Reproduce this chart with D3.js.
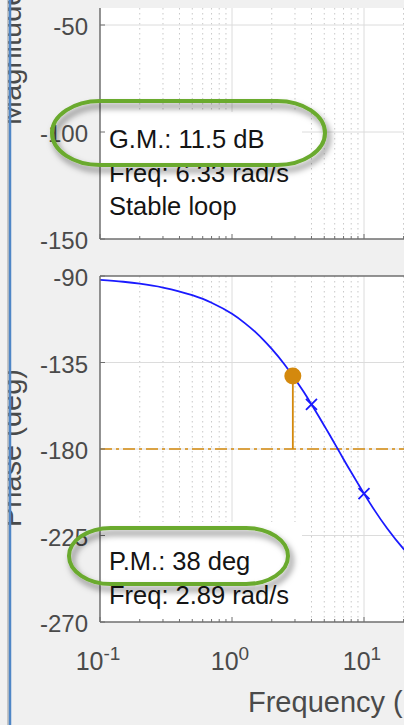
<!DOCTYPE html>
<html><head><meta charset="utf-8">
<script src="https://cdn.jsdelivr.net/npm/d3@7"></script>
<style>html,body{margin:0;padding:0;background:#f0f0f0;overflow:hidden}svg{display:block}</style>
</head><body>
<script>
// ---- data ----
const freqs    = [0.1, 0.15, 0.2, 0.3, 0.5, 0.7, 1, 1.25, 1.5, 1.75, 2, 2.5, 2.89, 3, 3.5, 4, 4.5, 5, 5.5, 6.33, 7, 8, 9, 10, 12, 15, 20, 25];
const phaseDeg = [-92.0, -93.0, -94.0, -96.0, -100.0, -103.9, -109.7, -114.5, -119.1, -123.6, -127.9, -136.0, -142.0, -143.6, -150.4, -156.8, -162.6, -167.9, -172.7, -180.0, -185.3, -192.1, -198.0, -203.2, -211.8, -221.4, -232.1, -239.1];
const markerFreqs = [4, 10];
const markerPhase = [-156.8, -203.2];
const pmFreq = 2.89, pmPhase = -142.0, critPhase = -180;
const magTicks = [-150, -100, -50];
const phaseTicks = [-270, -225, -180, -135, -90];
const decadeTicks = [0.1, 1, 10];
const decadeExp = ["-1", "0", "1"];
const gmLines = ["G.M.: 11.5 dB", "Freq: 6.33 rad/s", "Stable loop"];
const pmLines = ["P.M.: 38 deg", "Freq: 2.89 rad/s"];
const magLabel = "Magnitude (dB)", phaseLabel = "Phase (deg)", freqLabel = "Frequency (rad/s)";

const W = 404, H = 725;
const svg = d3.select("body").append("svg").attr("width", W).attr("height", H)
  .style("font-family", "'Liberation Sans', Arial, Helvetica, sans-serif");

const defs = svg.append("defs");
const f = defs.append("filter").attr("id", "shadow").attr("x", "-20%").attr("y", "-40%").attr("width", "140%").attr("height", "180%");
f.append("feDropShadow").attr("dx", 3).attr("dy", 5).attr("stdDeviation", 3).attr("flood-color", "#000").attr("flood-opacity", 0.5);

const x = d3.scaleLog().domain([0.1, 10]).range([100, 364]);
const yMag = d3.scaleLinear().domain([-150, -50]).range([239, 25]);
const yPh = d3.scaleLinear().domain([-270, -90]).range([622, 276]);

const minorFreqs = [];
[0.1, 1, 10].forEach(d => { for (let k = 2; k <= 9; k++) minorFreqs.push(d * k); });
minorFreqs.push(20, 30);

const axisCol = "#6f6f6f", gridCol = "#dcdcdc", minorCol = "#c8c8c8", tickTxt = "#4a4a4a";
const orange = "#d4890d", blue = "#1a1aff";

function panel(top, bottom, yScale, yTicks) {
  const g = svg.append("g");
  g.append("rect").attr("x", 100).attr("y", top).attr("width", W - 100).attr("height", bottom - top).attr("fill", "#fff");
  g.selectAll(".mg").data(minorFreqs).join("line")
    .attr("x1", d => x(d)).attr("x2", d => x(d)).attr("y1", top).attr("y2", bottom)
    .attr("stroke", minorCol).attr("stroke-width", 1).attr("stroke-dasharray", "1.5,3.5");
  g.selectAll(".Mg").data(decadeTicks.slice(1)).join("line")
    .attr("x1", d => x(d)).attr("x2", d => x(d)).attr("y1", top).attr("y2", bottom)
    .attr("stroke", gridCol).attr("stroke-width", 1);
  g.selectAll(".hg").data(yTicks).join("line")
    .attr("x1", 100).attr("x2", W).attr("y1", d => yScale(d)).attr("y2", d => yScale(d))
    .attr("stroke", gridCol).attr("stroke-width", 1);
  return g;
}

function axes(top, bottom, yScale, yTicks) {
  const g = svg.append("g");
  g.append("line").attr("x1", 100).attr("x2", 100).attr("y1", top).attr("y2", bottom).attr("stroke", axisCol).attr("stroke-width", 1.5);
  g.append("line").attr("x1", 100).attr("x2", W).attr("y1", bottom).attr("y2", bottom).attr("stroke", axisCol).attr("stroke-width", 1.5);
  g.selectAll(".yt").data(yTicks).join("line")
    .attr("x1", 100).attr("x2", 105).attr("y1", d => yScale(d)).attr("y2", d => yScale(d)).attr("stroke", axisCol);
  g.selectAll(".xt").data(decadeTicks).join("line")
    .attr("x1", d => x(d)).attr("x2", d => x(d)).attr("y1", bottom).attr("y2", bottom - 5).attr("stroke", axisCol);
  g.selectAll(".xm").data(minorFreqs).join("line")
    .attr("x1", d => x(d)).attr("x2", d => x(d)).attr("y1", bottom).attr("y2", bottom - 3).attr("stroke", axisCol);
  g.selectAll(".yl").data(yTicks).join("text")
    .attr("x", 88).attr("y", d => yScale(d) + 10).attr("text-anchor", "end")
    .attr("font-size", 24).attr("fill", tickTxt).text(d => d);
  return g;
}

// ---- top panel (magnitude) ----
panel(8, 239, yMag, magTicks.filter(d => d > -150));
svg.append("rect").attr("x", 101).attr("y", 112).attr("width", 201).attr("height", 126).attr("fill", "#fff");
axes(8, 239, yMag, magTicks);

// ---- bottom panel (phase) ----
panel(276, 622, yPh, phaseTicks.filter(d => d > -270 && d < -90));
svg.append("line").attr("x1", 100).attr("x2", W).attr("y1", 276).attr("y2", 276).attr("stroke", axisCol).attr("stroke-width", 1.5);

const clip = defs.append("clipPath").attr("id", "clipPh");
clip.append("rect").attr("x", 100).attr("y", 276).attr("width", W - 100).attr("height", 346);
const pg = svg.append("g").attr("clip-path", "url(#clipPh)");

pg.append("line").attr("x1", 100).attr("x2", W).attr("y1", yPh(critPhase)).attr("y2", yPh(critPhase))
  .attr("stroke", orange).attr("stroke-width", 1.6).attr("stroke-dasharray", "12,4,3,4");

const pts = freqs.map((fq, i) => [x(fq), yPh(phaseDeg[i])]);
pg.append("path").attr("d", d3.line().curve(d3.curveMonotoneX)(pts))
  .attr("fill", "none").attr("stroke", blue).attr("stroke-width", 1.8);

markerFreqs.forEach((fq, i) => {
  const cx = x(fq), cy = yPh(markerPhase[i]), s = 5.5;
  pg.append("path").attr("d", `M${cx - s},${cy - s}L${cx + s},${cy + s}M${cx - s},${cy + s}L${cx + s},${cy - s}`)
    .attr("stroke", blue).attr("stroke-width", 1.8);
});

pg.append("line").attr("x1", x(pmFreq)).attr("x2", x(pmFreq)).attr("y1", yPh(pmPhase)).attr("y2", yPh(critPhase))
  .attr("stroke", orange).attr("stroke-width", 1.8);
pg.append("circle").attr("cx", x(pmFreq)).attr("cy", yPh(pmPhase)).attr("r", 8.5).attr("fill", orange);

svg.append("rect").attr("x", 101).attr("y", 522).attr("width", 201).attr("height", 99).attr("fill", "#fff");
axes(276, 622, yPh, phaseTicks);

const xl = svg.append("g").attr("fill", tickTxt);
decadeTicks.forEach((d, i) => {
  const t = xl.append("text").attr("x", x(d) - 2).attr("y", 670).attr("text-anchor", "middle").attr("font-size", 25);
  t.append("tspan").text("10");
  t.append("tspan").attr("dy", -10).attr("font-size", 19).text(decadeExp[i]);
});

svg.append("text").attr("x", 248).attr("y", 712).attr("font-size", 29).attr("fill", tickTxt).text(freqLabel);
svg.append("text").attr("transform", "translate(21,125) rotate(-90)").attr("font-size", 29).attr("fill", tickTxt).text(magLabel);
svg.append("text").attr("transform", "translate(21,527) rotate(-90)").attr("font-size", 29).attr("fill", tickTxt).text(phaseLabel);

svg.append("rect").attr("x", 0).attr("y", 0).attr("width", 8).attr("height", H).attr("fill", "#f0f0f0");
svg.append("line").attr("x1", 8).attr("x2", 8).attr("y1", 0).attr("y2", H).attr("stroke", "#9a9a9a").attr("stroke-width", 1);
svg.append("line").attr("x1", 10).attr("x2", 10).attr("y1", 0).attr("y2", H).attr("stroke", "#4f86c6").attr("stroke-width", 2.5);

const txt = svg.append("g").attr("fill", "#141414").attr("font-size", 25.5);
gmLines.forEach((s, i) => txt.append("text").attr("x", 109).attr("y", 148 + i * 33.5).text(s));
pmLines.forEach((s, i) => txt.append("text").attr("x", 109).attr("y", 570 + i * 33.5).text(s));

const ov = svg.append("g").attr("filter", "url(#shadow)");
ov.append("rect").attr("x", 52).attr("y", 101).attr("width", 273).attr("height", 64).attr("rx", 48).attr("ry", 32)
  .attr("fill", "none").attr("stroke", "#6aaa2e").attr("stroke-width", 4);
ov.append("rect").attr("x", 69).attr("y", 528).attr("width", 219).attr("height", 56).attr("rx", 42).attr("ry", 28)
  .attr("fill", "none").attr("stroke", "#6aaa2e").attr("stroke-width", 4);
</script>
</body></html>
